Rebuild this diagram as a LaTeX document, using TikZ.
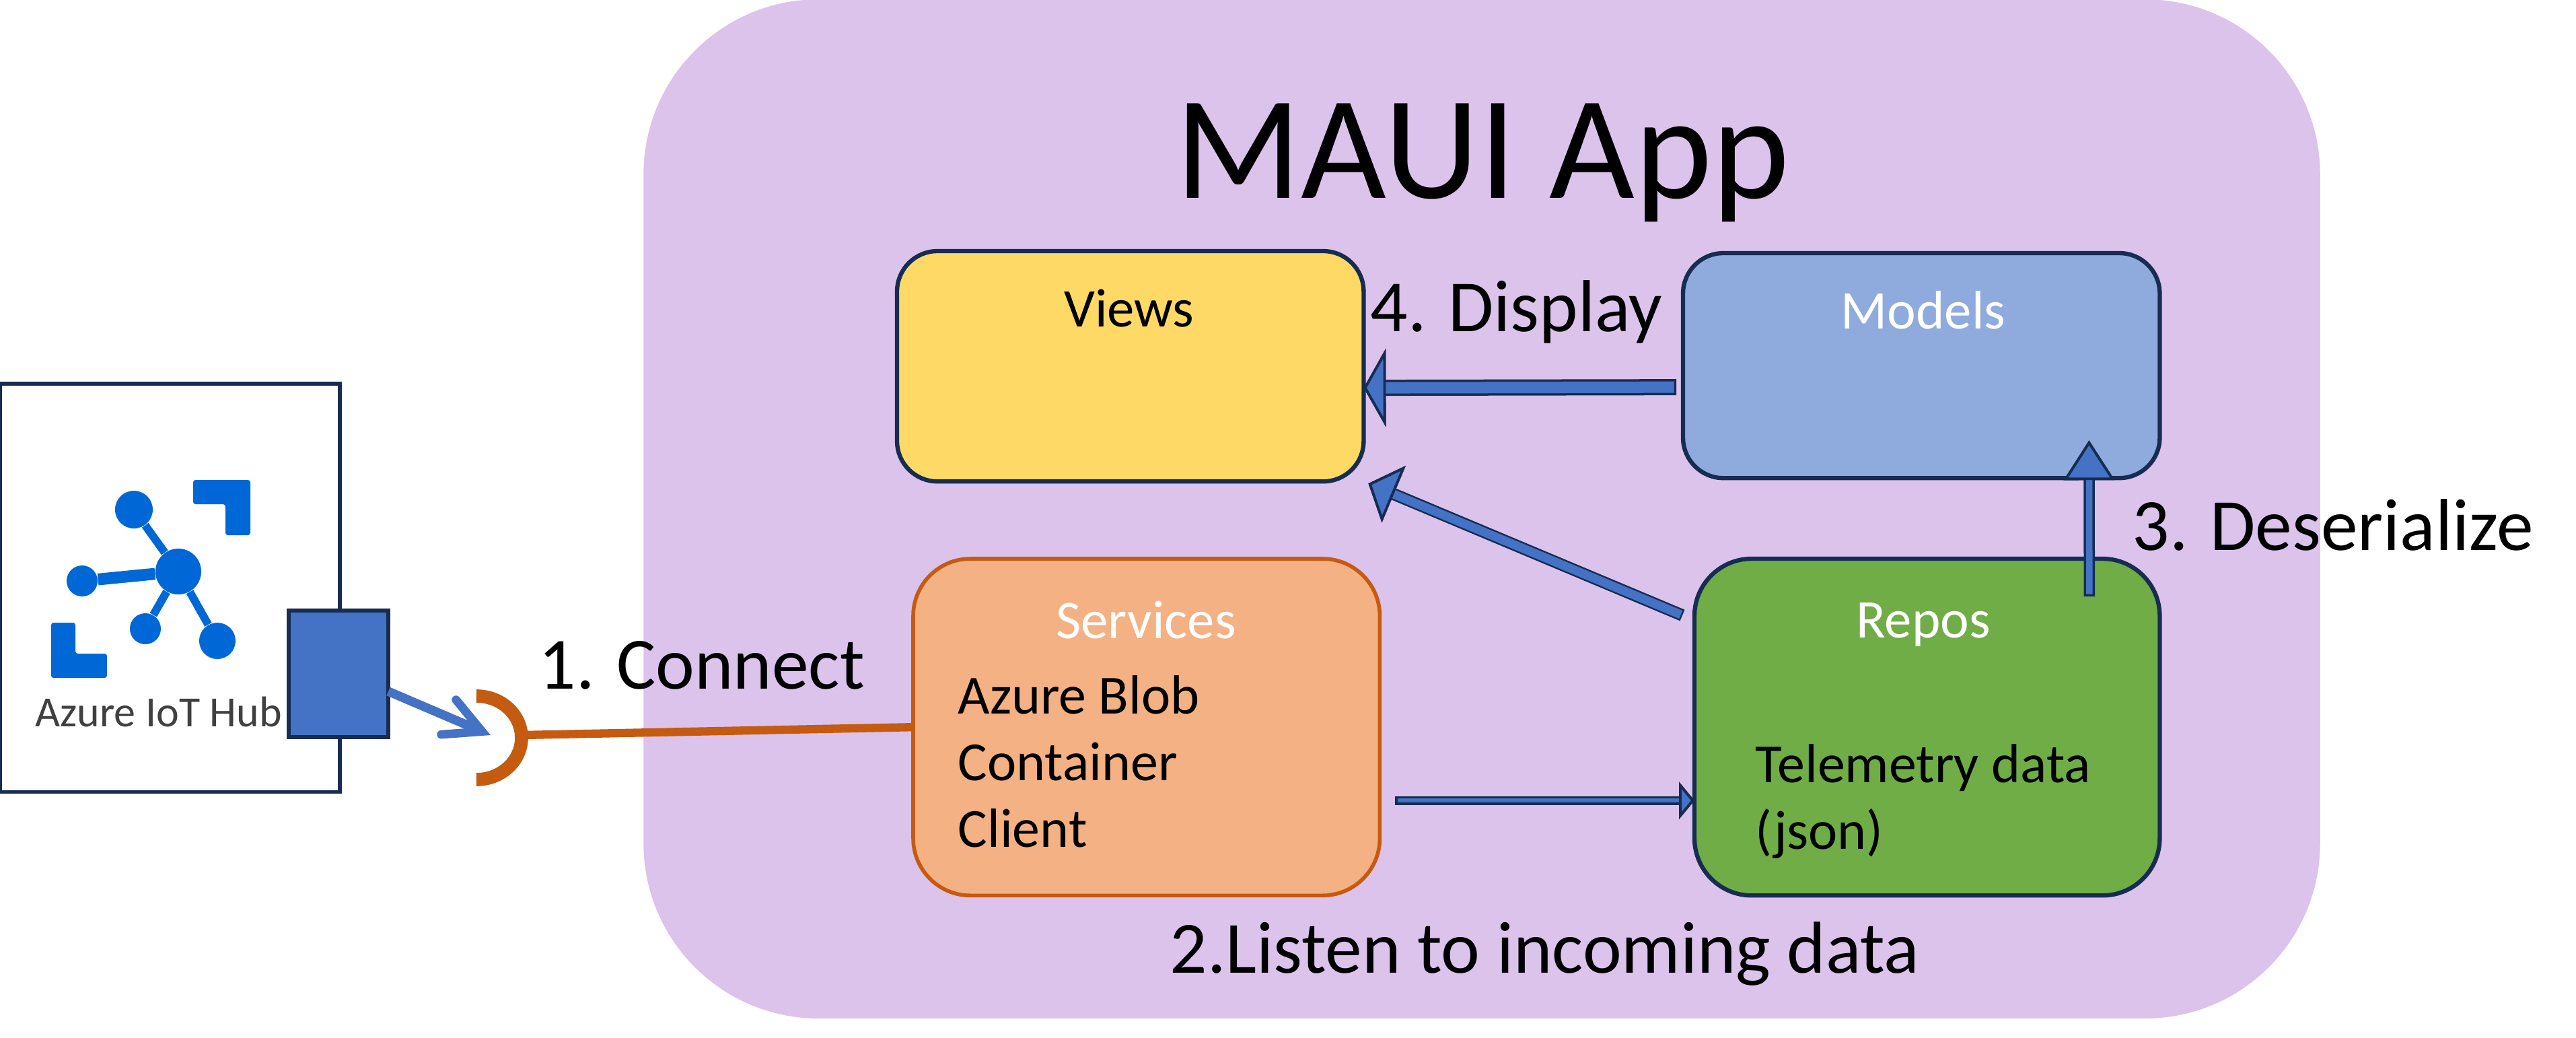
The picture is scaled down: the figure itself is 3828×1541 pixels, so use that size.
\documentclass[tikz,border=0pt]{standalone}
\usepackage{fontspec}
\setmainfont{Carlito}
\usetikzlibrary{arrows.meta,positioning}
\definecolor{appback}{HTML}{DBC3EC}
\definecolor{navyline}{HTML}{172C51}
\definecolor{portblue}{HTML}{4472C4}
\definecolor{viewsfill}{HTML}{FFD966}
\definecolor{modelsfill}{HTML}{8FAADC}
\definecolor{servicesfill}{HTML}{F4B183}
\definecolor{servicesline}{HTML}{C55A11}
\definecolor{reposfill}{HTML}{70AD47}
\definecolor{iotblue}{HTML}{0068D6}

\begin{document}
\begin{tikzpicture}[x=0.01cm, y=-0.01cm,
  app/.style={fill=appback, rounded corners=2.6cm, minimum width=24.9cm, minimum height=15.13cm},
  layer/.style={draw=navyline, line width=1.8pt, rounded corners=0.6cm, anchor=north west, outer sep=0pt},
  biglayer/.style={layer, rounded corners=0.85cm, minimum width=6.93cm, minimum height=5cm},
  caption/.style={font=\fontsize{31.1}{36}\selectfont, text=black, inner sep=0pt, anchor=base west},
  title/.style={font=\fontsize{23}{27}\selectfont, text=white, inner sep=0pt},
  body/.style={font=\fontsize{23.3}{28.2}\selectfont, text=black, align=left, inner sep=0pt, anchor=north west},
  dot/.style={circle, fill=iotblue, inner sep=0pt},
  fatarrow/.style n args={4}{draw=portblue, line width=#1cm, shorten <=#2cm,
    -{Triangle[length=#3cm, width=#4cm, fill=portblue, color=navyline, line width=1.1pt, sep=0pt]},
    preaction={draw=navyline, line width=#1cm+#2cm+#2cm, shorten <=0pt}}
]
  \useasboundingbox (0,0) rectangle (3828,1541);
  \node[app] (maui) at (2202,756) {};
  \node[font=\fontsize{62.3}{70}\selectfont, inner sep=0pt] (mauititle) at (2203,242) {MAUI App};

  \node[layer, fill=viewsfill, minimum width=6.93cm, minimum height=3.42cm] (views) at (1333,373) {};
  \node[layer, fill=modelsfill, minimum width=7.08cm, minimum height=3.34cm] (models) at (2501,376) {};
  \node[biglayer, fill=servicesfill, draw=servicesline, line width=1.6pt] (services) at (1357,830) {};
  \node[biglayer, fill=reposfill, minimum width=6.91cm] (repos) at (2518,830) {};

  \node[title, text=black] (viewslabel) at (1678,458) {Views};
  \node[title] (modelslabel) at (2858,461) {Models};
  \node[title] (serviceslabel) at (1703,921) {Services};
  \node[title] (reposlabel) at (2858,928) {Repos};
  \node[body] (blob) at (1423,1003) {Azure Blob\\Container\\Client};
  \node[body] (telemetry) at (2608,1105) {Telemetry data\\(json)};

  % device on the left
  \node[draw=navyline, line width=1.6pt, anchor=north west, outer sep=0pt, minimum width=5.05cm, minimum height=6.06cm] (iotbox) at (0,570) {};
  \fill[iotblue, rounded corners=1pt] (287,713) -- (372,713) -- (372,795) -- (335,795) -- (335,749) -- (287,749) -- cycle;
  \fill[iotblue, rounded corners=1pt] (76,925) -- (112,925) -- (112,971) -- (159,971) -- (159,1007) -- (76,1007) -- cycle;
  \node[dot, minimum size=0.68cm] (hub) at (265,849) {};
  \node[dot, minimum size=0.56cm] (leafa) at (199,757) {};
  \node[dot, minimum size=0.46cm] (leafb) at (122,863) {};
  \node[dot, minimum size=0.46cm] (leafc) at (216,934) {};
  \node[dot, minimum size=0.54cm] (leafd) at (323,952) {};
  \draw[iotblue, line width=3.4pt] (hub) -- (leafa);
  \draw[iotblue, line width=5pt] (hub) -- (leafb);
  \draw[iotblue, line width=3.4pt] (hub) -- (leafc);
  \draw[iotblue, line width=3.4pt] (hub) -- (leafd);
  \node[font=\fontsize{18.2}{22}\selectfont, text=black!75, anchor=base west, inner sep=0pt] (iotlabel) at (52,1079) {Azure IoT Hub};
  \node[draw=navyline, fill=portblue, line width=1.6pt, anchor=north west, outer sep=0pt, minimum width=1.48cm, minimum height=1.88cm] (port) at (429,907) {};

  % socket
  \coordinate (sockettop) at (708,1034);
  \coordinate (socketmid) at (775,1092);
  \coordinate (socketin) at (729,1092);
  \draw[servicesline, line width=5.6pt] (sockettop) arc[start angle=-90, end angle=90, x radius=67, y radius=62] coordinate (socketbottom);
  \draw[servicesline, line width=3.5pt] (socketmid) -- (services.west);
  \draw[portblue, line width=3.8pt, -{Straight Barb[length=0.54cm, width=0.56cm, line width=3.6pt, line cap=round]}] ([yshift=-0.26cm]port.east) -- (socketin);

  % flow between the layers
  \draw[fatarrow={0.17}{0.035}{0.33}{1.16}] ([xshift=-0.1cm, yshift=-0.32cm]models.west) -- ([yshift=-0.32cm]views.east);
  \draw[fatarrow={0.13}{0.025}{0.41}{0.91}] ([xshift=-0.18cm, yshift=1.66cm]repos.west) -- ([xshift=0.07cm, yshift=-1.74cm]views.east);
  \draw[fatarrow={0.095}{0.035}{0.59}{0.75}] ([xshift=2.41cm, yshift=-0.56cm]repos.north) -- ([xshift=2.49cm, yshift=0.56cm]models.south);
  \draw[fatarrow={0.06}{0.035}{0.23}{0.55}] ([xshift=0.23cm, yshift=-1.09cm]services.east) -- ([yshift=-1.09cm]repos.west);

  \node[caption] (connect) at (800,1023) {1. Connect};
  \node[caption] (listen) at (1738,1445) {2.Listen to incoming data};
  \node[caption] (deserialize) at (3168,817) {3. Deserialize};
  \node[caption] (display) at (2036,492) {4. Display};
\end{tikzpicture}
\end{document}
